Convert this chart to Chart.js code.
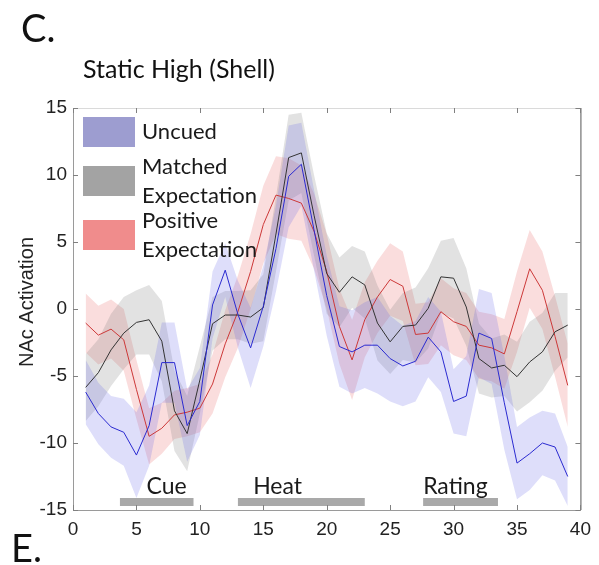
<!DOCTYPE html>
<html>
<head>
<meta charset="utf-8">
<script src="https://cdn.jsdelivr.net/npm/chart.js@4.4.0/dist/chart.umd.min.js"></script>
<style>
  html, body { margin: 0; padding: 0; background: #fff; }
  #wrap { position: relative; width: 599px; height: 565px; }
</style>
</head>
<body>
<div id="wrap"><canvas id="nacChart" width="599" height="565"></canvas></div>
<script>
// time bins (TR) along the trial
const timePoints = [1, 2, 3, 4, 5, 6, 7, 8, 9, 10, 11, 12, 13, 14, 15, 16, 17, 18, 19, 20,
  21, 22, 23, 24, 25, 26, 27, 28, 29, 30, 31, 32, 33, 34, 35, 36, 37, 38, 39];

// group means and standard errors
const uncuedMean = [-6.2, -7.8, -8.8, -9.2, -10.9, -8.7, -4.0, -4.0, -8.7, -6.9, 0.3, 2.9, -0.4, -2.9, 0.2, 4.5, 9.9, 10.8, 5.9, 1.0,
  -2.8, -3.2, -2.7, -2.7, -3.7, -4.25, -3.9, -2.1, -3.2, -6.9, -6.5, -1.8, -2.2, -7.0, -11.5, -10.8, -10.0, -10.3, -12.5];
const uncuedSem = [2.4, 2.3, 2.3, 2.5, 3.2, 3.0, 3.0, 3.0, 2.7, 2.5, 2.5, 2.0, 2.5, 3.0, 3.0, 3.2, 3.8, 3.1, 3.0, 3.0,
  3.0, 3.1, 3.2, 3.6, 3.2, 3.0, 3.0, 3.0, 3.0, 2.4, 3.0, 3.3, 3.4, 3.5, 2.7, 2.7, 2.4, 2.5, 2.2];

const matchedMean = [-5.85, -4.75, -3.05, -1.8, -1.0, -0.8, -2.4, -7.6, -9.3, -5.3, -1.1, -0.45, -0.45, -0.6, 0.1, 5.6, 11.3, 11.65, 7.0, 2.65,
  1.25, 2.4, 1.8, -1.05, -2.45, -1.3, -1.2, 0.05, 2.4, 2.3, 0.15, -3.7, -4.4, -4.2, -5.05, -3.95, -3.2, -1.7, -1.2];
const matchedSem = [2.5, 2.5, 2.7, 2.7, 2.4, 2.6, 3.0, 3.0, 2.8, 2.5, 2.0, 1.8, 1.8, 2.0, 2.5, 2.8, 3.2, 3.0, 3.0, 3.0,
  2.6, 2.3, 2.5, 2.8, 2.4, 2.5, 2.8, 3.0, 2.7, 3.0, 2.9, 2.6, 2.2, 2.3, 2.6, 3.0, 2.9, 2.9, 2.4];

const positiveMean = [-1.05, -1.95, -1.5, -2.3, -6.0, -9.5, -8.9, -7.9, -7.7, -7.4, -5.6, -2.6, -0.2, 2.8, 6.3, 8.5, 8.25, 7.9, 5.8, 2.8,
  -1.3, -3.8, -0.8, 0.9, 2.2, 1.7, -1.9, -1.8, -0.2, -0.95, -1.3, -2.7, -2.9, -3.35, -0.2, 3.0, 1.4, -2.05, -5.7];
const positiveSem = [2.2, 2.2, 2.2, 2.3, 2.2, 2.1, 1.9, 1.8, 1.8, 1.8, 2.2, 2.5, 2.7, 2.8, 2.9, 2.9, 3.0, 2.8, 2.8, 2.8,
  2.8, 3.0, 2.8, 2.7, 2.7, 2.6, 2.3, 2.3, 2.5, 2.5, 2.5, 2.5, 2.5, 2.6, 3.0, 2.9, 2.9, 3.0, 3.1];

// trial events (time windows)
const eventNames = ['Cue', 'Heat', 'Rating'];
const eventStart = [3.7, 13.0, 27.6];
const eventEnd = [9.5, 23.0, 33.5];
const eventLabelX = [5.8, 14.2, 27.6];
const eventLevel = -14.4;

const xTicks = [0, 5, 10, 15, 20, 25, 30, 35, 40];
const yTicks = [-15, -10, -5, 0, 5, 10, 15];

const groups = [
  { name: ['Uncued'], mean: uncuedMean, sem: uncuedSem,
    fill: 'rgba(90,90,230,0.2)', line: '#2a2ad0', swatch: '#9d9dd0' },
  { name: ['Matched', 'Expectation'], mean: matchedMean, sem: matchedSem,
    fill: 'rgba(110,110,110,0.2)', line: '#333333', swatch: '#a3a3a3' },
  { name: ['Positive', 'Expectation'], mean: positiveMean, sem: positiveSem,
    fill: 'rgba(230,85,85,0.2)', line: '#cc3838', swatch: '#f08c8c' }
];

const pts = arr => timePoints.map((t, i) => ({ x: t, y: arr[i] }));
const none = 'rgba(0,0,0,0)';

const datasets = [];
groups.forEach(g => {
  const lower = g.mean.map((m, i) => m - g.sem[i]);
  const upper = g.mean.map((m, i) => m + g.sem[i]);
  datasets.push({ data: pts(lower), borderColor: none, borderWidth: 1, pointRadius: 0, fill: false, order: 3 });
  datasets.push({ data: pts(upper), borderColor: none, borderWidth: 1, pointRadius: 0, fill: '-1', backgroundColor: g.fill, order: 3 });
});
eventNames.forEach((n, i) => {
  datasets.push({
    data: [{ x: eventStart[i], y: eventLevel }, { x: eventEnd[i], y: eventLevel }],
    borderColor: '#a9a9a9', borderWidth: 8, borderCapStyle: 'butt', pointRadius: 0, fill: false, order: 2
  });
});
groups.forEach(g => {
  datasets.push({ data: pts(g.mean), borderColor: g.line, borderWidth: 1, pointRadius: 0, fill: false, tension: 0, order: 1 });
});

const decorations = {
  id: 'decorations',
  afterDraw(chart) {
    const { ctx, chartArea: a, scales: { x, y } } = chart;
    ctx.save();

    // box: top and right edges
    ctx.lineWidth = 1;
    ctx.strokeStyle = '#dadada';
    ctx.beginPath(); ctx.moveTo(a.left, a.top + 0.5); ctx.lineTo(a.right, a.top + 0.5); ctx.stroke();
    ctx.strokeStyle = '#555';
    ctx.beginPath(); ctx.moveTo(a.right + 0.5, a.top); ctx.lineTo(a.right + 0.5, a.bottom); ctx.stroke();

    // inward tick marks
    ctx.strokeStyle = '#808080';
    ctx.beginPath();
    xTicks.forEach(v => {
      const px = Math.round(x.getPixelForValue(v)) + 0.5;
      ctx.moveTo(px, a.bottom); ctx.lineTo(px, a.bottom - 5);
      ctx.moveTo(px, a.top); ctx.lineTo(px, a.top + 5);
    });
    yTicks.forEach(v => {
      const py = Math.round(y.getPixelForValue(v)) + 0.5;
      ctx.moveTo(a.left, py); ctx.lineTo(a.left + 5, py);
      ctx.moveTo(a.right, py); ctx.lineTo(a.right - 5, py);
    });
    ctx.stroke();

    // event labels
    ctx.fillStyle = '#1a1a1a';
    ctx.font = '23px Lato';
    ctx.textAlign = 'left';
    ctx.textBaseline = 'alphabetic';
    eventNames.forEach((n, i) => {
      ctx.fillText(n, x.getPixelForValue(eventLabelX[i]), y.getPixelForValue(eventLevel) - 8);
    });

    // legend
    ctx.font = '22px Lato';
    ctx.textBaseline = 'middle';
    const rows = [[117, 30], [166, 30], [220, 30]];
    groups.forEach((g, i) => {
      const [top, h] = rows[i];
      ctx.fillStyle = g.swatch;
      ctx.fillRect(83, top, 52, h);
      ctx.fillStyle = '#1a1a1a';
      if (g.name.length === 1) {
        ctx.fillText(g.name[0], 142, top + h / 2);
      } else {
        ctx.fillText(g.name[0], 142, top + 1);
        ctx.fillText(g.name[1], 142, top + 30);
      }
    });

    // y axis title
    ctx.save();
    ctx.translate(27, 302);
    ctx.rotate(-Math.PI / 2);
    ctx.textAlign = 'center';
    ctx.font = '20px "Liberation Sans"';
    ctx.fillStyle = '#222';
    ctx.fillText('NAc Activation', 0, 0);
    ctx.restore();

    // panel letters and title
    ctx.textAlign = 'left';
    ctx.textBaseline = 'alphabetic';
    ctx.fillStyle = '#111';
    ctx.font = '38px Lato';
    ctx.fillText('C.', 21, 42);
    ctx.fillText('E.', 11, 562);
    ctx.font = '25px Lato';
    ctx.fillText('Static High (Shell)', 83, 78);

    ctx.restore();
  }
};

new Chart(document.getElementById('nacChart').getContext('2d'), {
  type: 'line',
  data: { datasets },
  options: {
    responsive: false,
    animation: false,
    layout: { padding: { top: 108, right: 13, left: 0, bottom: 0 } },
    plugins: { legend: { display: false }, tooltip: { enabled: false } },
    scales: {
      x: {
        type: 'linear', min: 0, max: 40,
        afterFit(s) { s.height = 55; },
        afterBuildTicks(s) { s.ticks = xTicks.map(v => ({ value: v })); },
        ticks: { autoSkip: false, maxRotation: 0, padding: 8, color: '#222', font: { family: 'Liberation Sans', size: 19 } },
        grid: { display: false, drawTicks: false },
        border: { display: true, color: '#9a9a9a' }
      },
      y: {
        type: 'linear', min: -15, max: 15,
        afterFit(s) { s.width = 73; },
        afterBuildTicks(s) { s.ticks = yTicks.map(v => ({ value: v })); },
        ticks: { padding: 6, color: '#222', font: { family: 'Liberation Sans', size: 19 } },
        grid: { display: false, drawTicks: false },
        border: { display: true, color: '#9a9a9a' }
      }
    }
  },
  plugins: [decorations]
});
</script>
</body>
</html>
